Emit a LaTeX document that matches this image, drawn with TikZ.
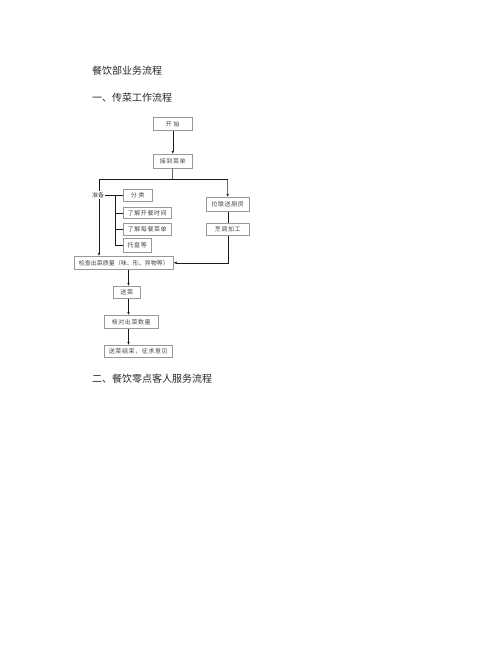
\documentclass[tikz,border=0pt]{standalone}
\usepackage{fontspec}
\setmainfont{Noto Sans CJK SC}
\newfontfamily\boxfont[LetterSpace=10]{Noto Sans CJK SC}
\usetikzlibrary{positioning, arrows.meta}

\begin{document}
\begin{tikzpicture}[x=1pt, y=-1pt,
	stepbox/.style={draw=gray!80, line width=0.5pt, anchor=north west, inner sep=0pt, text=gray!55!black, font=\boxfont\fontsize{6}{7}\selectfont},
	heading/.style={anchor=west, inner sep=0pt, text=black!85, font=\fontsize{10}{12}\selectfont},
	arr/.style={-{Latex[length=3pt, width=2.4pt]}},
	link/.style={draw=gray!20!black, line width=0.5pt}]
		\useasboundingbox (0,0) rectangle (502,649);
		% headings
		\node[heading] (title) at (92,71) {餐饮部业务流程};
		\node[heading] (part1) at (92,98) {一、传菜工作流程};
		\node[heading] (part2) at (92,379) {二、餐饮零点客人服务流程};
		% boxes
		\node[stepbox, minimum width=39pt, minimum height=13pt] (start) at (153,117) {开\ 始};
		\node[stepbox, minimum width=39pt, minimum height=14pt] (menu) at (153,154) {接到菜单};
		\node[stepbox, minimum width=29pt, minimum height=12pt] (sort) at (123,189) {分\ 类};
		\node[stepbox, minimum width=48pt, minimum height=11pt] (time) at (123,207) {了解开餐时间};
		\node[stepbox, minimum width=48pt, minimum height=12pt] (dish) at (123,223) {了解每餐菜单};
		\node[stepbox, minimum width=28pt, minimum height=14pt] (tray) at (123,238) {托盘等};
		\node[stepbox, minimum width=43pt, minimum height=14pt] (order) at (206,197) {拉联送厨房};
		\node[stepbox, minimum width=43pt, minimum height=12pt] (cook) at (206,223) {烹调加工};
		\node[stepbox, minimum width=99pt, minimum height=13pt, font=\fontsize{6}{7}\selectfont] (check) at (74,256) {检查出菜质量（味、形、异物等）};
		\node[stepbox, minimum width=27pt, minimum height=12pt] (serve) at (113,286) {送菜};
		\node[stepbox, minimum width=54pt, minimum height=13pt] (count) at (104,315) {核对出菜数量};
		\node[stepbox, minimum width=68pt, minimum height=12pt] (finish) at (104,345) {送菜结束，征求意见};
		% split below the menu
		\coordinate (split) at (172.5,179);
		\coordinate (left) at (99,179);
		\coordinate (right) at (227.5,179);
		\coordinate (col) at (128.5,0);
		\draw[link, arr] (start) -- (menu);
		\draw[link] (menu) -- (split);
		\draw[link] (left) -- (right);
		\draw[link, arr] (left) -- (left |- check.north);
		\draw[link, arr] (right) -- (order);
		\draw[link] (order) -- (cook);
		\draw[link, arr] (cook.south) |- (check.east);
		% preparation bracket
		\node[fill=white, inner sep=1pt, text=gray!55!black, font=\fontsize{6}{7}\selectfont] (prep) at (98,195) {准备};
		\draw[link] (prep.east) -- ++(10,0) coordinate (brk);
		\draw[link] (brk |- sort.west) -- (brk |- tray.west);
		\foreach \n in {sort, time, dish, tray}
			\draw[link] (brk |- \n.west) -- (\n.west);
		% lower column
		\draw[link, arr] (col |- check.south) -- (col |- serve.north);
		\draw[link, arr] (col |- serve.south) -- (col |- count.north);
		\draw[link, arr] (col |- count.south) -- (col |- finish.north);
	\end{tikzpicture}
\end{document}
